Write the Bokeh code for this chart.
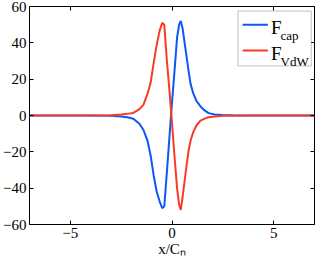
from bokeh.plotting import figure
from bokeh.models import LinearAxis, FixedTicker, Label, BoxAnnotation, CustomJSTickFormatter, Grid
from bokeh.embed import file_html
from bokeh.resources import INLINE

# ---- data ----
x_vals = [-7, -5, -4, -3, -2.5, -2.2, -1.9, -1.6, -1.4, -1.2, -1.05, -0.9, -0.75, -0.6,
          -0.48, -0.38, -0.25, -0.12, 0, 0.12, 0.25, 0.35, 0.43, 0.52, 0.62, 0.72, 0.82,
          0.92, 1.05, 1.2, 1.4, 1.6, 1.8, 2.1, 2.5, 3, 4, 5, 7]
f_cap = [0, 0, -0.05, -0.2, -0.5, -1.0, -1.8, -4.5, -8, -14, -22, -33, -42, -47.5,
         -51, -50, -31, -11, 7, 24, 43, 50, 52, 48, 40, 32, 24,
         17, 12, 8, 5, 2.8, 1.3, 0.6, 0.25, 0.1, 0, 0, 0]
f_vdw = [0, 0, 0.05, 0.2, 0.5, 0.9, 1.4, 3.5, 6, 12, 18, 29, 39, 47,
         51, 50, 30, 13, -4, -22, -40, -49, -52, -45, -36, -27, -19,
         -13.5, -9, -5.5, -2.8, -1.7, -1.0, -0.5, -0.2, -0.08, 0, 0, 0]
series_names = ["F", "F"]
series_subs = ["cap", "VdW"]
x_ticks = [-5, 0, 5]
x_tick_labels = ["\u22125", "0", "5"]
y_ticks = [-60, -40, -20, 0, 20, 40, 60]
y_tick_labels = ["\u221260", "\u221240", "\u221220", "0", "20", "40", "60"]
x_label = "x/C\u2099"

BLUE = "#0b57f9"
RED = "#fb3a26"
FONT = "Liberation Serif"

p = figure(width=316, height=259, x_range=(-7, 7), y_range=(-60, 60),
           output_backend="svg", toolbar_location=None,
           x_axis_location=None, y_axis_location=None,
           min_border_left=26, min_border_right=2, min_border_top=6, min_border_bottom=0)
p.outline_line_color = "black"
p.outline_line_width = 1
p.background_fill_color = "white"
p.border_fill_color = "white"
for r in list(p.center):
    if isinstance(r, Grid):
        r.visible = False
p.grid.visible = False


def make_axis(ticks, labels):
    ax = LinearAxis(ticker=FixedTicker(ticks=ticks, minor_ticks=[]))
    if labels is None:
        ax.formatter = CustomJSTickFormatter(code="return ''")
        ax.major_label_standoff = 0
    else:
        ax.major_label_overrides = {t: l for t, l in zip(ticks, labels)}
        ax.major_label_standoff = 3
    ax.axis_line_color = None
    ax.major_tick_in = 4
    ax.major_tick_out = 0
    ax.minor_tick_in = 0
    ax.minor_tick_out = 0
    ax.major_tick_line_color = "black"
    ax.major_label_text_font = FONT
    ax.major_label_text_font_size = "15px"
    ax.major_label_text_color = "black"
    return ax


p.add_layout(make_axis(y_ticks, y_tick_labels), "left")
xax = make_axis(x_ticks, x_tick_labels)
xax.axis_label = x_label
xax.axis_label_text_font = FONT
xax.axis_label_text_font_size = "15px"
xax.axis_label_text_font_style = "normal"
xax.axis_label_text_color = "black"
xax.axis_label_standoff = 0
p.add_layout(xax, "below")
p.add_layout(make_axis(y_ticks, None), "right")
p.add_layout(make_axis(x_ticks, None), "above")

p.line(x_vals, f_cap, line_color=BLUE, line_width=2)
p.line(x_vals, f_vdw, line_color=RED, line_width=2)

# ---- legend box (placed in the upper right corner of the frame) ----
p.add_layout(BoxAnnotation(left=3.24, right=6.84, top=57.5, bottom=27.3,
                           fill_color="white", fill_alpha=1,
                           line_color="#333333", line_width=1))
for col, ly, fy, sy, nm, sub in [(BLUE, 50.0, 48.7, 44.1, series_names[0], series_subs[0]),
                                 (RED, 35.8, 34.4, 29.9, series_names[1], series_subs[1])]:
    p.add_layout(BoxAnnotation(left=3.47, right=4.71, top=ly + 0.55, bottom=ly - 0.55,
                               fill_color=col, fill_alpha=1, line_color=None))
    p.add_layout(Label(x=4.86, y=fy, text=nm,
                       text_font=FONT, text_font_size="19px", text_baseline="alphabetic",
                       text_color="black"))
    p.add_layout(Label(x=5.33, y=sy, text=sub,
                       text_font=FONT, text_font_size="13px", text_baseline="alphabetic",
                       text_color="black"))

open("out.html", "w").write(file_html(p, INLINE))
